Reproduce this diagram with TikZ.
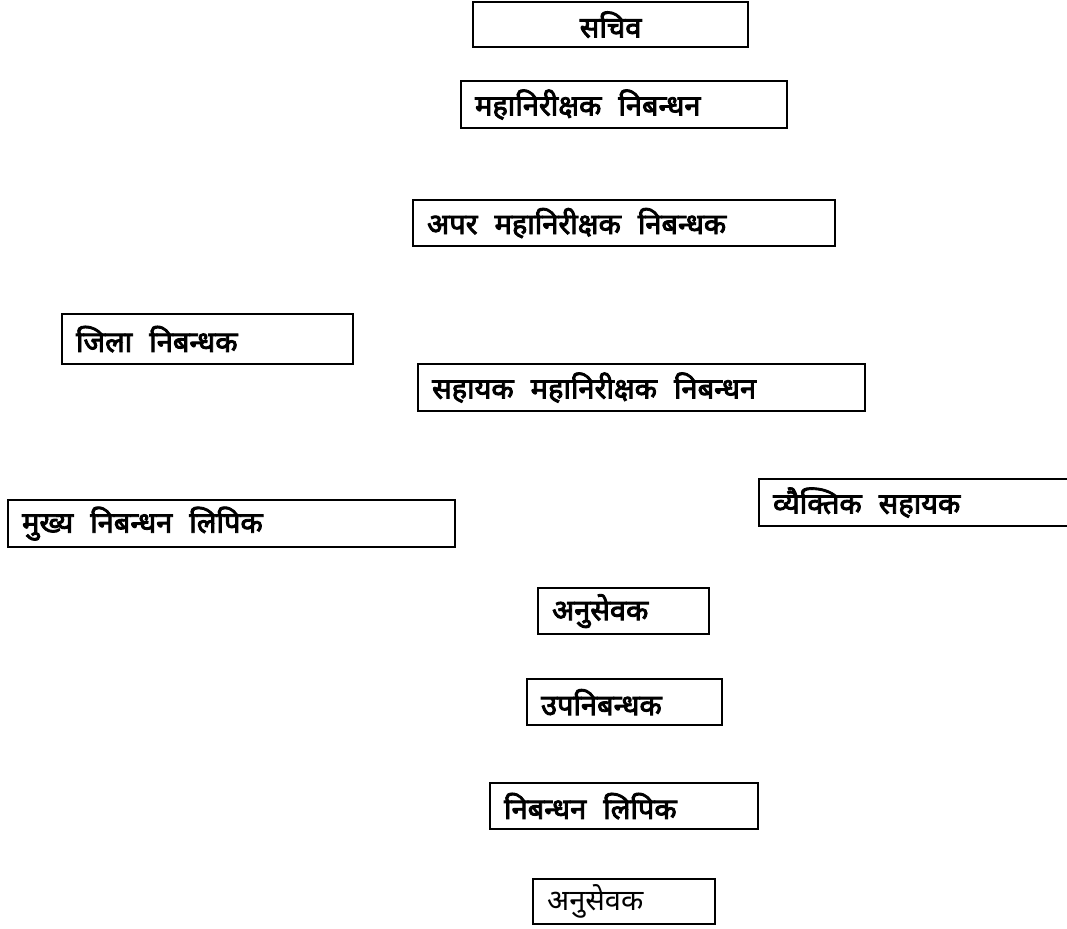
\documentclass[tikz,border=0pt]{standalone}
\usepackage{fontspec}
\newfontfamily\deva[Script=Devanagari]{Noto Sans}
\newfontfamily\devab[Script=Devanagari,FakeBold=3]{Noto Sans}
\newcommand{\wgap}{\hspace{17pt}}
\usetikzlibrary{positioning}

\begin{document}
\begin{tikzpicture}
[x=1pt,y=-1pt,
  boxDecorate/.style={shape=rectangle,draw,line width=2.2pt,anchor=north west,
    inner xsep=14pt,inner ysep=0pt,align=left,
    font=\devab\fontsize{29}{32}\selectfont}]
\useasboundingbox (0,0) rectangle (1067,928);
%% top box, text centred
\node (sachiv) at (472,1) [boxDecorate,align=center,minimum height=45pt,text width=247pt] {सचिव};
%% boxes: name/x/y/width/height/label
\foreach \nodename/\x/\y/\w/\h/\label in {
  mahaniriksak/460/80/326/47/{महानिरीक्षक\wgap निबन्धन},
  apar/412/199/422/46/{अपर\wgap महानिरीक्षक\wgap निबन्धक},
  jila/61/313/291/50/{जिला\wgap निबन्धक},
  sahayak/417/363/447/47/{सहायक\wgap महानिरीक्षक\wgap निबन्धन},
  mukhya/7/499/447/47/{मुख्य\wgap निबन्धन\wgap लिपिक},
  vyaktik/758/478/330/47/{व्यैक्तिक\wgap सहायक},
  anusevak/537/587/171/46/{अनुसेवक},
  upnibandhak/526/678/195/46/{उपनिबन्धक},
  lipik/489/782/268/46/{निबन्धन\wgap लिपिक},
  anusevakb/532/878/182/45/{\deva अनुसेवक}}
{
  \pgfmathsetmacro{\tw}{\w-28}
  \node (\nodename) at (\x,\y) [boxDecorate,minimum height=\h pt,text width=\tw pt] {\label};
}
\end{tikzpicture}
\end{document}
